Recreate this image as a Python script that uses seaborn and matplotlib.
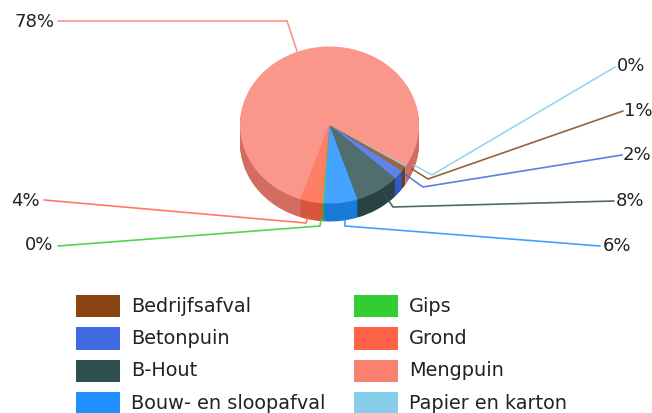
"""Waste breakdown as a tilted 3D-looking pie with leader lines."""

import matplotlib.pyplot as plt
import seaborn as sns
from matplotlib.colors import to_rgb
from matplotlib.patches import Patch

sns.set_theme(style="white")

categories = ["Bedrijfsafval", "Betonpuin", "B-Hout", "Bouw- en sloopafval",
              "Gips", "Grond", "Mengpuin", "Papier en karton"]
values = [1.0, 2.0, 8.0, 6.0, 0.3, 4.0, 78.0, 0.3]
value_labels = ["1%", "2%", "8%", "6%", "0%", "4%", "78%", "0%"]
colors = ["#8B4513", "#4169E1", "#2F4F4F", "#1E90FF",
          "#32CD32", "#FF6347", "#FA8072", "#87CEEB"]

# layout, in reference pixels
W, H = 652, 414
CX, CY, RX, RY, DEPTH = 329.5, 126, 89.5, 78.5, 18
leader_x = [[623, 428, 412], [622, 423, 406], [614, 393, 383], [600, 345, 345],
            [58, 320, 321], [44, 306, 308], [58, 287, 297], [615, 432, 414]]
leader_y = [[112, 180, 170], [156, 188, 176], [202, 208, 193], [247, 227, 220],
            [247, 227, 220], [201, 224, 218], [22, 22, 52], [68, 176, 166]]
label_x = [624, 623, 616, 603, 25, 11, 15, 617]
label_y = [111, 155, 201, 246, 245, 201, 22, 66]

LEGEND_PT = 13.9
LEGEND_PX = LEGEND_PT / 0.72


def shade(color, factor):
    return tuple(c * factor for c in to_rgb(color))


def lighten(color, amount):
    return tuple(c + (1 - c) * amount for c in to_rgb(color))


def main() -> None:
    fig = plt.figure(figsize=(W / 100, H / 100), dpi=100)

    pie_ax = fig.add_axes([(CX - RX) / W, 1 - (CY + RY + DEPTH) / H,
                           2 * RX / W, (2 * RY + DEPTH) / H])
    side_colors = [shade(c, 0.85) for c in colors]
    top_colors = [lighten(c, 0.17) for c in colors]
    for step in range(DEPTH, 0, -1):
        pie_ax.pie(values, colors=side_colors, startangle=-32, counterclock=False,
                   center=(0, -step / RY), wedgeprops={"linewidth": 0})
    pie_ax.pie(values, colors=top_colors, startangle=-32, counterclock=False,
               wedgeprops={"linewidth": 0})
    pie_ax.set_aspect("auto")
    pie_ax.set_xlim(-1, 1)
    pie_ax.set_ylim(-1 - DEPTH / RY, 1)

    ax = fig.add_axes([0, 0, 1, 1], zorder=2)
    ax.patch.set_alpha(0)
    ax.set_xlim(0, W)
    ax.set_ylim(H, 0)
    ax.axis("off")

    for xs, ys, color in zip(leader_x, leader_y, colors):
        ax.plot(xs, ys, color=color, lw=1.2, alpha=0.85, solid_joinstyle="miter")
    for x, y, text in zip(label_x, label_y, value_labels):
        ax.text(x, y, text, fontsize=13, color="#222222", ha="left", va="center")

    handles = [Patch(facecolor=c, edgecolor="none") for c in colors]
    legend = ax.legend(handles, categories, ncol=2, frameon=False, loc="upper left",
                       bbox_to_anchor=(76 / W, 1 - 296 / H), borderpad=0, borderaxespad=0,
                       fontsize=LEGEND_PT, labelcolor="#222222",
                       handlelength=44 / LEGEND_PX, handleheight=1.41,
                       handletextpad=11 / LEGEND_PX, labelspacing=10 / LEGEND_PX,
                       columnspacing=29 / LEGEND_PX)
    # labels sit a little low against the swatches
    for label in legend.get_texts():
        label.set_y(2)

    fig.savefig("out.png", dpi=100)
    plt.close(fig)


if __name__ == "__main__":
    main()
